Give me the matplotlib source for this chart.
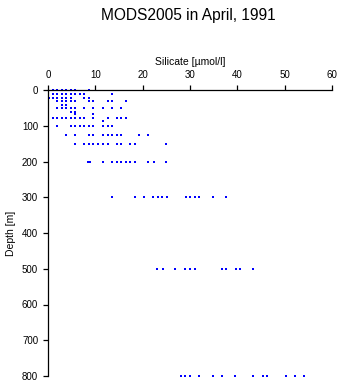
import matplotlib
matplotlib.use("Agg")
import matplotlib.pyplot as plt

# silicate [umol/l] observed at each depth [m]
si_0 = [1.0, 2.0, 3.0, 3.9, 4.9, 5.8, 8.7]
si_11 = [1.0, 2.0, 3.0, 3.9, 4.9, 5.8, 6.8, 7.7, 13.6]
si_21 = [0.2, 1.0, 2.0, 3.0, 3.9, 4.9, 7.7, 8.7]
si_31 = [2.0, 3.0, 3.9, 4.9, 5.8, 8.7, 9.6, 12.6, 13.6, 16.5]
si_41 = [3.0, 3.9]
si_51 = [2.0, 3.0, 3.9, 4.9, 5.8, 7.7, 9.6, 11.6, 13.6, 15.5]
si_61 = [4.9, 5.8]
si_68 = [5.8, 9.6]
si_77 = [1.0, 2.0, 3.0, 3.9, 4.9, 5.8, 6.8, 7.7, 9.6, 12.6, 14.5, 15.5, 16.5]
si_86 = [11.6, 11.6]
si_101 = [2.0, 4.9, 5.8, 6.8, 7.7, 8.7, 9.6, 11.6, 12.6, 13.6]
si_126 = [3.9, 5.8, 8.7, 9.6, 11.6, 12.6, 13.6, 14.5, 15.5, 19.3, 21.2]
si_151 = [5.8, 7.7, 8.7, 9.6, 10.6, 11.6, 12.6, 14.5, 15.5, 17.4, 18.4, 25.0]
si_200 = [8.5, 8.9, 11.6, 13.6, 14.5, 15.5, 16.5, 17.4, 18.4, 21.2, 22.3, 25.0]
si_300 = [13.6, 18.4, 20.3, 22.2, 23.2, 24.1, 25.1, 29.1, 30.0, 31.0, 32.0, 34.8, 37.6]
si_500 = [23.1, 24.2, 26.9, 29.0, 30.0, 31.0, 36.7, 37.7, 39.7, 40.5, 43.4]
si_800 = [28.0, 29.0, 29.9, 32.0, 34.8, 36.7, 39.6, 43.4, 45.4, 46.3, 50.2, 52.1, 54.0]

depths = [0, 11, 21, 31, 41, 51, 61, 68, 77, 86, 101, 126, 151, 200, 300, 500, 800]
silicate = [si_0, si_11, si_21, si_31, si_41, si_51, si_61, si_68, si_77, si_86,
            si_101, si_126, si_151, si_200, si_300, si_500, si_800]

plt.rcParams['font.family'] = ['Liberation Sans', 'DejaVu Sans']

fig = plt.figure(figsize=(3.41, 3.84), dpi=100)
ax = fig.add_axes([48 / 341, 8 / 384, 284 / 341, 286 / 384])

for d, vals in zip(depths, silicate):
    ax.plot(vals, [d] * len(vals), 's', color='blue', markersize=2.1,
            markeredgewidth=0, clip_on=False)

ax.set_xlim(0, 60)
ax.set_ylim(800, 0)
ax.set_xticks(range(0, 61, 10))
ax.set_yticks(range(0, 801, 100))
ax.xaxis.tick_top()
ax.xaxis.set_label_position('top')
ax.spines['right'].set_visible(False)
ax.spines['bottom'].set_visible(False)
for s in ('top', 'left'):
    ax.spines[s].set_linewidth(0.9)
ax.tick_params(axis='both', direction='out', length=3.6, width=0.9,
               labelsize=7, pad=3.5)
ax.set_xlabel('Silicate [\u00b5mol/l]', fontsize=7.5, labelpad=4)
ax.set_ylabel('Depth [m]', fontsize=7.5, labelpad=4)

fig.text(0.552, 0.978, 'MODS2005 in April, 1991', ha='center', va='top',
         fontsize=11.2)

fig.savefig('out.png', dpi=100)
